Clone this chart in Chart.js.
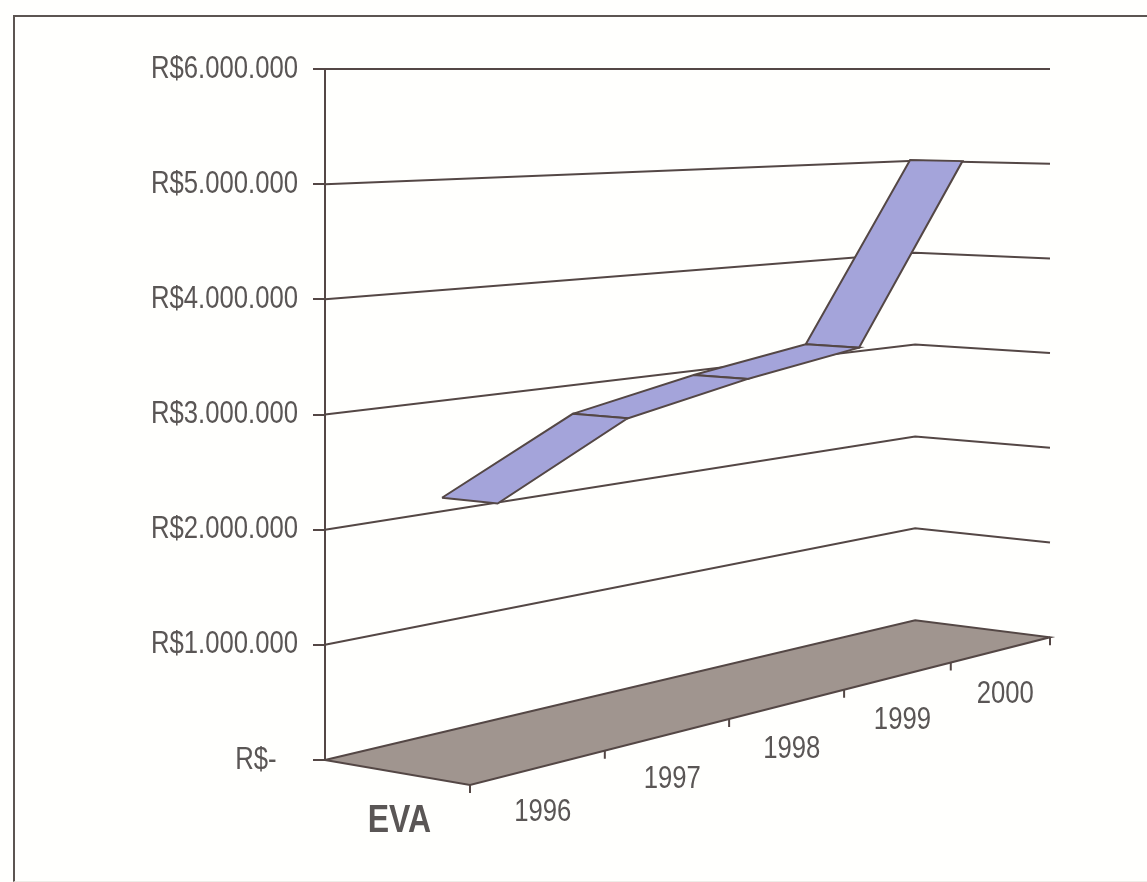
<!DOCTYPE html>
<html>
<head>
<meta charset="utf-8">
<title>EVA</title>
<script src="https://cdn.jsdelivr.net/npm/chart.js@4"></script>
<style>
  html, body { margin: 0; padding: 0; background: #fffffd; overflow: hidden; }
  #frame { position: absolute; left: 13px; top: 15px; width: 1134px; height: 864px;
    border-left: 2px solid #5c5552; border-top: 2px solid #5c5552; border-bottom: 1px solid #efede8; }
  #eva-chart { position: absolute; left: 0; top: 0; }
</style>
</head>
<body>
<div id="frame"></div>
<canvas id="eva-chart" width="1147" height="882"></canvas>
<script>
const years = ['1996', '1997', '1998', '1999', '2000'];
const evaValues = [2230000, 2820000, 3045000, 3220000, 5040000];
const yTickValues = [0, 1000000, 2000000, 3000000, 4000000, 5000000, 6000000];
// The zero label keeps the accounting format's trailing space
const yTickLabels = ['R$-   ', 'R$1.000.000', 'R$2.000.000', 'R$3.000.000', 'R$4.000.000', 'R$5.000.000', 'R$6.000.000'];

const yMax = 6000000;
const yMin = -400000;

// Floor of the 3D box, in axis units: left, back, right, front corners
const floorLeft = [0, 0];
const floorBack = [81.4, 1214000];
const floorRight = [100, 1066000];
const floorFront = [20, -217000];

// Ribbon sits in this slice of the box depth
const ribbonBack = 0.335;
const ribbonFront = 0.72;

const lineColor = '#544745';
const textColor = '#5a5655';
const textFont = '"Liberation Sans", sans-serif';
const textStretch = 1.2;

// Perspective map of the unit square onto the floor
function makeFloorMap(p0, p1, p2, p3) {
  const dx1 = p1[0] - p2[0], dx2 = p3[0] - p2[0], sx = p0[0] - p1[0] + p2[0] - p3[0];
  const dy1 = p1[1] - p2[1], dy2 = p3[1] - p2[1], sy = p0[1] - p1[1] + p2[1] - p3[1];
  const den = dx1 * dy2 - dx2 * dy1;
  const g = (sx * dy2 - dx2 * sy) / den;
  const h = (dx1 * sy - sx * dy1) / den;
  const a = p1[0] - p0[0] + g * p1[0], b = p3[0] - p0[0] + h * p3[0];
  const d = p1[1] - p0[1] + g * p1[1], e = p3[1] - p0[1] + h * p3[1];
  return (u, w) => {
    const q = g * u + h * w + 1;
    return [(a * u + b * w + p0[0]) / q, (d * u + e * w + p0[1]) / q];
  };
}
const floorMap = makeFloorMap(floorLeft, floorBack, floorRight, floorFront);

// u runs along the years, w from the back wall to the front, v is the value.
// Every height closes in on the top line, which stays flat.
function project(u, w, v) {
  const [x, base] = floorMap(u, w);
  return { x, y: base + (yMax - base) * v / yMax };
}

function outline(points, extra) {
  return Object.assign({
    data: points,
    showLine: true,
    pointRadius: 0,
    borderColor: lineColor,
    borderWidth: 2,
    tension: 0,
    clip: false,
    fill: false,
  }, extra);
}

const datasets = [];

// Ribbon segments between consecutive years
evaValues.slice(0, -1).forEach((value, i) => {
  const u0 = (i + 0.5) / years.length;
  const u1 = (i + 1.5) / years.length;
  const next = evaValues[i + 1];
  datasets.push(outline([
    project(u0, ribbonBack, value),
    project(u1, ribbonBack, next),
    project(u1, ribbonFront, next),
    project(u0, ribbonFront, value),
    project(u0, ribbonBack, value),
  ], { fill: 'shape', backgroundColor: '#a4a4da', order: 1 }));
});

// Gridlines along the back wall and the side wall
yTickValues.slice(1).forEach((value) => {
  datasets.push(outline([project(0, 0, value), project(1, 0, value), project(1, 1, value)], { order: 2 }));
});

// Floor
datasets.push(outline([
  project(0, 0, 0), project(1, 0, 0), project(1, 1, 0), project(0, 1, 0), project(0, 0, 0),
], { fill: 'shape', backgroundColor: '#a0958f', order: 3 }));

// Year ticks under the front edge of the floor
for (let i = 0; i <= years.length; i++) {
  const p = project(i / years.length, 1, 0);
  datasets.push(outline([p, { x: p.x, y: p.y - 70000 }], { order: 4 }));
}

// Value axis line
datasets.push(outline([{ x: 0, y: 0 }, { x: 0, y: yMax }], { order: 4 }));

// The labels are taller than the font's own proportions
function tallText(ctx, text, x, y) {
  ctx.save();
  ctx.translate(x, y);
  ctx.scale(1, textStretch);
  ctx.fillText(text, 0, 0);
  ctx.restore();
}

// Value labels, year labels and the series name
const axisLabels = {
  id: 'axisLabels',
  afterDatasetsDraw(chart) {
    const { ctx, scales } = chart;
    const at = (p) => [scales.x.getPixelForValue(p.x), scales.y.getPixelForValue(p.y)];
    ctx.save();
    ctx.textBaseline = 'middle';
    ctx.fillStyle = textColor;
    ctx.font = '25.7px ' + textFont;

    ctx.textAlign = 'right';
    yTickValues.forEach((value, i) => {
      tallText(ctx, yTickLabels[i], scales.y.right - 27, scales.y.getPixelForValue(value));
    });

    ctx.textAlign = 'center';
    years.forEach((year, i) => {
      const [x, y] = at(project((i + 0.5) / years.length, 1, 0));
      tallText(ctx, year, x + 4, y + 45);
    });

    const [x, y] = at(project(0, 0.5, 0));
    ctx.font = 'bold 32px ' + textFont;
    tallText(ctx, 'EVA', x + 3, y + 49);
    ctx.restore();
  },
};

new Chart(document.getElementById('eva-chart'), {
  type: 'scatter',
  data: { datasets },
  plugins: [axisLabels],
  options: {
    responsive: false,
    animation: false,
    layout: { padding: { top: 69, right: 97, bottom: 75.93, left: 0 } },
    plugins: { legend: { display: false }, tooltip: { enabled: false } },
    scales: {
      x: { type: 'linear', display: false, min: 0, max: 100 },
      y: {
        type: 'linear',
        min: yMin,
        max: yMax,
        afterFit(scale) { scale.width = 325; },
        afterBuildTicks(scale) { scale.ticks = yTickValues.map((value) => ({ value })); },
        border: { display: false },
        grid: { drawOnChartArea: false, tickLength: 12, tickColor: lineColor, lineWidth: 2 },
        ticks: { display: false },
      },
    },
  },
});
</script>
</body>
</html>
